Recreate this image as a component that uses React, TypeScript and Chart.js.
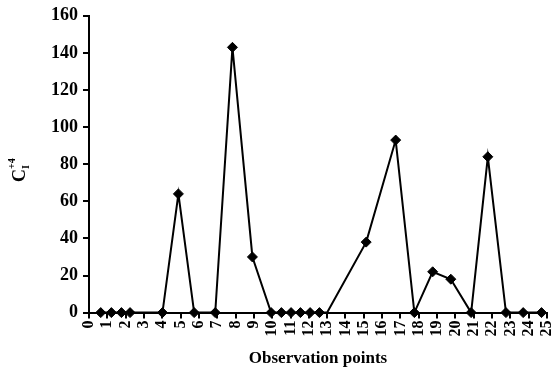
import React, { useEffect, useRef } from "react";
import { Chart, registerables } from "chart.js";

Chart.register(...registerables);

const xPositions = [0.64, 1.22, 1.77, 2.24, 4.01, 4.88, 5.74, 6.89, 7.83, 8.92, 9.94, 10.5, 11.03, 11.54, 12.07, 12.58, 13.0, 15.13, 16.74, 17.76, 18.76, 19.75, 20.86, 21.77, 22.76, 23.7, 24.7];
const ctValues = [0, 0, 0, 0, 0, 64, 0, 0, 143, 30, 0, 0, 0, 0, 0, 0, 0, 38, 93, 0, 22, 18, 0, 84, 0, 0, 0];
const markerShown = [1, 1, 1, 1, 1, 1, 1, 1, 1, 1, 1, 1, 1, 1, 1, 1, 0, 1, 1, 1, 1, 1, 1, 1, 1, 1, 1];
const xTitle = "Observation points";
const yTitleMain = "C";
const yTitleSub = "I";
const yTitleSup = "+4";

const FONT = "'Liberation Serif', 'Times New Roman', serif";

const yTitlePlugin = {
  id: "yTitlePlugin",
  afterDraw(chart: any) {
    const ctx = chart.ctx;
    const area = chart.chartArea;
    const cy = (area.top + area.bottom) / 2 + 6;
    const cx = 25;
    ctx.save();
    ctx.translate(cx, cy);
    ctx.rotate(-Math.PI / 2);
    ctx.fillStyle = "#000";
    ctx.textBaseline = "alphabetic";
    ctx.textAlign = "left";
    ctx.font = `bold 18px ${FONT}`;
    const wMain = ctx.measureText(yTitleMain).width;
    ctx.font = `bold 10px ${FONT}`;
    const wSub = ctx.measureText(yTitleSub).width;
    const wSup = ctx.measureText(yTitleSup).width;
    const total = wMain + Math.max(wSub, wSup);
    const x0 = -total / 2;
    ctx.font = `bold 18px ${FONT}`;
    ctx.fillText(yTitleMain, x0, 0);
    ctx.font = `bold 10px ${FONT}`;
    ctx.fillText(yTitleSub, x0 + wMain, 4);
    ctx.fillText(yTitleSup, x0 + wMain, -10);
    ctx.restore();
  },
};

export default function App() {
  const canvasRef = useRef<HTMLCanvasElement | null>(null);

  useEffect(() => {
    const canvas = canvasRef.current;
    if (!canvas) return;
    const data = xPositions.map((x, i) => ({ x, y: ctValues[i] }));
    const chart = new Chart(canvas, {
      type: "scatter",
      data: {
        datasets: [
          {
            data,
            showLine: true,
            borderColor: "#000",
            backgroundColor: "#000",
            borderWidth: 2,
            pointStyle: "rectRot",
            pointRadius: markerShown.map((m) => (m ? 5 : 0)),
            pointHoverRadius: 5,
            pointBorderWidth: 1,
            clip: false,
          } as any,
        ],
      },
      options: {
        animation: false,
        responsive: false,
        maintainAspectRatio: false,
        layout: { padding: { left: 46, right: 13, top: 0, bottom: 2 } },
        plugins: {
          legend: { display: false },
          tooltip: { enabled: false },
        },
        scales: {
          x: {
            type: "linear",
            min: 0,
            max: 25,
            afterFit: (scale: any) => {
              scale.paddingRight = 0;
            },
            border: { color: "#000", width: 2 },
            grid: {
              display: true,
              drawOnChartArea: false,
              drawTicks: true,
              tickLength: 6,
              color: "#000",
              lineWidth: 2,
            },
            ticks: {
              stepSize: 1,
              autoSkip: false,
              maxRotation: 90,
              minRotation: 90,
              color: "#000",
              padding: 2,
              font: { family: FONT, size: 16, weight: "bold" },
            },
            title: {
              display: true,
              text: xTitle,
              color: "#000",
              padding: { top: 10, bottom: 0 },
              font: { family: FONT, size: 17, weight: "bold" },
            },
          },
          y: {
            type: "linear",
            min: 0,
            max: 160,
            border: { color: "#000", width: 2 },
            grid: {
              display: true,
              drawOnChartArea: false,
              drawTicks: true,
              tickLength: 6,
              color: "#000",
              lineWidth: 2,
            },
            ticks: {
              stepSize: 20,
              color: "#000",
              padding: 5,
              font: { family: FONT, size: 18, weight: "bold" },
            },
          },
        },
      },
      plugins: [yTitlePlugin],
    } as any);
    return () => chart.destroy();
  }, []);

  return (
    <div style={{ position: "fixed", left: 0, top: 0, width: 560, height: 371, background: "#fff" }}>
      <canvas ref={canvasRef} width={560} height={371} style={{ width: 560, height: 371 }} />
    </div>
  );
}
